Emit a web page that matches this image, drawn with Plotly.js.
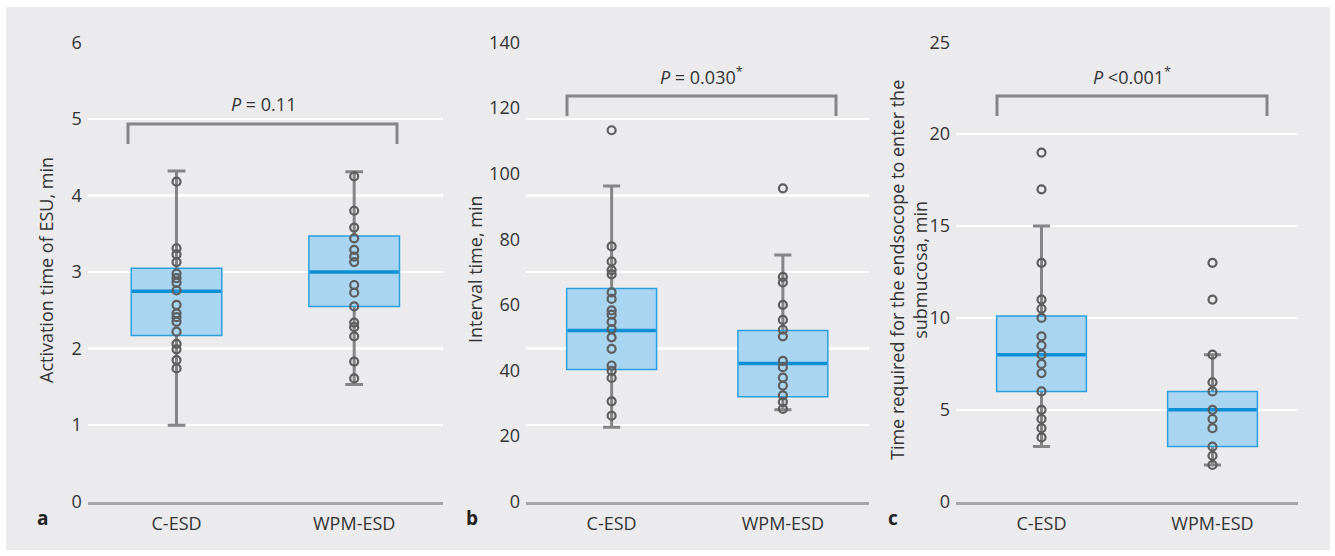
<!DOCTYPE html>
<html>
<head>
<meta charset="utf-8">
<script src="https://cdn.plot.ly/plotly-3.0.1.min.js"></script>
<style>html,body{margin:0;padding:0;background:#fff;}#chart{width:1335px;height:556px;}</style>
</head>
<body>
<div id="chart"></div>
<script>
// ---------- data ----------
const categories = ['C-ESD', 'WPM-ESD'];

// a: Activation time of ESU, min
const actLower  = [1.00, 1.53];
const actQ1     = [2.17, 2.55];
const actMedian = [2.75, 3.00];
const actQ3     = [3.05, 3.47];
const actUpper  = [4.32, 4.31];
const actPointsC = [4.18, 3.31, 3.23, 3.13, 2.98, 2.92, 2.86, 2.76, 2.57, 2.46, 2.41, 2.35, 2.22, 2.06, 1.99, 1.85, 1.74];
const actPointsW = [4.25, 3.80, 3.58, 3.44, 3.29, 3.20, 3.13, 2.83, 2.73, 2.55, 2.34, 2.28, 2.16, 1.83, 1.61];

// b: Interval time, min
const intLower  = [22.7, 28.0];
const intQ1     = [40.3, 32.0];
const intMedian = [52.2, 42.1];
const intQ3     = [65.0, 52.2];
const intUpper  = [96.2, 75.2];
const intPointsC = [113.2, 77.8, 73.2, 70.6, 69.3, 63.8, 61.8, 58.3, 57.0, 54.8, 52.6, 50.1, 46.6, 41.5, 39.9, 37.7, 30.6, 26.2];
const intPointsW = [95.5, 68.5, 66.8, 60.0, 55.4, 52.4, 50.4, 42.9, 41.0, 37.8, 35.4, 32.4, 30.4, 28.3];

// c: Time required for the endoscope to enter the submucosa, min
const entLower  = [3.0, 2.0];
const entQ1     = [6.0, 3.0];
const entMedian = [8.0, 5.0];
const entQ3     = [10.1, 6.0];
const entUpper  = [15.0, 8.0];
const entPointsC = [19, 17, 13, 11, 10.5, 10, 9, 8.5, 8, 7.5, 7, 6, 5, 4.5, 4, 3.5];
const entPointsW = [13, 11, 8, 6.5, 6, 5, 4.5, 4, 3, 2.5, 2];

const pValues = ['<i>P</i> = 0.11', '<i>P</i> = 0.030<sup>*</sup>', '<i>P</i> <0.001<sup>*</sup>'];
const yTitles = ['Activation time of ESU, min', 'Interval time, min',
                 'Time required for the endsocope to enter the<br>submucosa, min'];
const panelLetters = ['a', 'b', 'c'];

// ---------- styling / helpers ----------
const W = 1335, H = 556;
const px = x => x / W;
const py = y => 1 - y / H;
const FONT = 'Open Sans, DejaVu Sans, sans-serif';
const TXT = '#333333';
const GRAY = '#858585';
const BOX_FILL = '#a9d5f1';
const BOX_LINE = '#2ba0dc';
const MED_LINE = '#0b8fd5';
const PT = '#5d5d5d';

function panelTraces(xa, ya, lo, q1, med, q3, up, ptsC, ptsW, bw) {
  const t = [];
  // whiskers + caps (gray)
  t.push({type: 'box', xaxis: xa, yaxis: ya, x: categories,
    q1: med, median: med, q3: med, lowerfence: lo, upperfence: up,
    width: 0.1, whiskerwidth: 1, boxpoints: false,
    line: {color: GRAY, width: 3}, fillcolor: 'rgba(0,0,0,0)',
    hoverinfo: 'skip', showlegend: false});
  // box body (blue)
  t.push({type: 'box', xaxis: xa, yaxis: ya, x: categories,
    q1: q1, median: med, q3: q3, lowerfence: q1, upperfence: q3,
    width: bw, whiskerwidth: 0, boxpoints: false,
    line: {color: BOX_LINE, width: 1.5}, fillcolor: BOX_FILL,
    hoverinfo: 'skip', showlegend: false});
  // thick median
  t.push({type: 'box', xaxis: xa, yaxis: ya, x: categories,
    q1: med, median: med, q3: med, lowerfence: med, upperfence: med,
    width: bw - 0.01, whiskerwidth: 0, boxpoints: false,
    line: {color: MED_LINE, width: 3.5}, fillcolor: 'rgba(0,0,0,0)',
    hoverinfo: 'skip', showlegend: false});
  // individual points
  const xs = ptsC.map(() => categories[0]).concat(ptsW.map(() => categories[1]));
  const ys = ptsC.concat(ptsW);
  t.push({type: 'scatter', mode: 'markers', xaxis: xa, yaxis: ya, x: xs, y: ys,
    marker: {symbol: 'circle-open', size: 8, color: PT, line: {color: PT, width: 2.2}},
    hoverinfo: 'skip', showlegend: false});
  return t;
}

const data = [].concat(
  panelTraces('x', 'y', actLower, actQ1, actMedian, actQ3, actUpper, actPointsC, actPointsW, 0.51),
  panelTraces('x2', 'y2', intLower, intQ1, intMedian, intQ3, intUpper, intPointsC, intPointsW, 0.525),
  panelTraces('x3', 'y3', entLower, entQ1, entMedian, entQ3, entUpper, entPointsC, entPointsW, 0.525),
  [{type: 'scatter', x: [], y: [], xaxis: 'x2', yaxis: 'y4', showlegend: false, hoverinfo: 'skip'}]
);

const yDom = [py(501.7), py(42.3)];
const tickFont = {family: FONT, size: 18, color: TXT};

function xAx(dom, anchor) {
  return {domain: dom, anchor: anchor, type: 'category', range: [-0.5, 1.5],
    showgrid: false, zeroline: false, showline: true, linecolor: '#a6a6a6', linewidth: 3,
    ticks: '', tickfont: tickFont, fixedrange: true, ticklabelstandoff: 4};
}
function yAx(anchor, range, dtick, grid) {
  return {domain: yDom, anchor: anchor, range: range, dtick: dtick, tick0: 0,
    showgrid: grid, gridcolor: '#ffffff', gridwidth: 2.5, zeroline: false, showline: false,
    ticks: '', tickfont: tickFont, fixedrange: true, ticklabelstandoff: 5};
}

const y4 = yAx('x2', [0, 6], 1, true);
y4.overlaying = 'y2';
y4.showticklabels = false;

function bracket(x0, x1, yTop, yLeg) {
  return {type: 'path', xref: 'paper', yref: 'paper',
    path: `M ${px(x0)},${py(yLeg)} L ${px(x0)},${py(yTop)} L ${px(x1)},${py(yTop)} L ${px(x1)},${py(yLeg)}`,
    line: {color: GRAY, width: 3}, fillcolor: 'rgba(0,0,0,0)'};
}

const shapes = [
  {type: 'rect', xref: 'paper', yref: 'paper', x0: px(6), x1: px(1330), y0: py(550), y1: py(7),
   fillcolor: '#ebebee', line: {width: 0}, layer: 'below'},
  bracket(128, 397, 124, 144),
  bracket(567, 836, 96, 116),
  bracket(997, 1267, 96, 116)
];

const ann = [];
const pPos = [[263, 104], [701, 76], [1132, 76]];
pValues.forEach((t, i) => ann.push({text: t, xref: 'paper', yref: 'paper',
  x: px(pPos[i][0]), y: py(pPos[i][1]), xanchor: 'center', yanchor: 'middle', showarrow: false,
  font: {family: FONT, size: 18, color: TXT}}));
const tPos = [46, 475, 908];
yTitles.forEach((t, i) => ann.push({text: t, xref: 'paper', yref: 'paper',
  x: px(tPos[i]), y: py(270), xanchor: 'center', yanchor: 'middle', textangle: -90, showarrow: false,
  font: {family: FONT, size: 18, color: TXT}}));
const lPos = [42, 472, 893];
panelLetters.forEach((t, i) => ann.push({text: '<b>' + t + '</b>', xref: 'paper', yref: 'paper',
  x: px(lPos[i]), y: py(518), xanchor: 'center', yanchor: 'middle', showarrow: false,
  font: {family: FONT, size: 19, color: '#222'}}));

const layout = {
  width: W, height: H,
  margin: {l: 0, r: 0, t: 0, b: 0, pad: 0},
  paper_bgcolor: '#ffffff', plot_bgcolor: 'rgba(0,0,0,0)',
  boxmode: 'overlay', showlegend: false,
  font: {family: FONT, color: TXT},
  xaxis: xAx([px(87.7), px(443)], 'y'),
  yaxis: yAx('x', [0, 6], 1, true),
  xaxis2: xAx([px(526), px(868.5)], 'y2'),
  yaxis2: yAx('x2', [0, 140], 20, false),
  xaxis3: xAx([px(956), px(1298)], 'y3'),
  yaxis3: yAx('x3', [0, 25], 5, true),
  yaxis4: y4,
  shapes: shapes,
  annotations: ann
};

Plotly.newPlot('chart', data, layout, {displayModeBar: false, staticPlot: true});
</script>
</body>
</html>
